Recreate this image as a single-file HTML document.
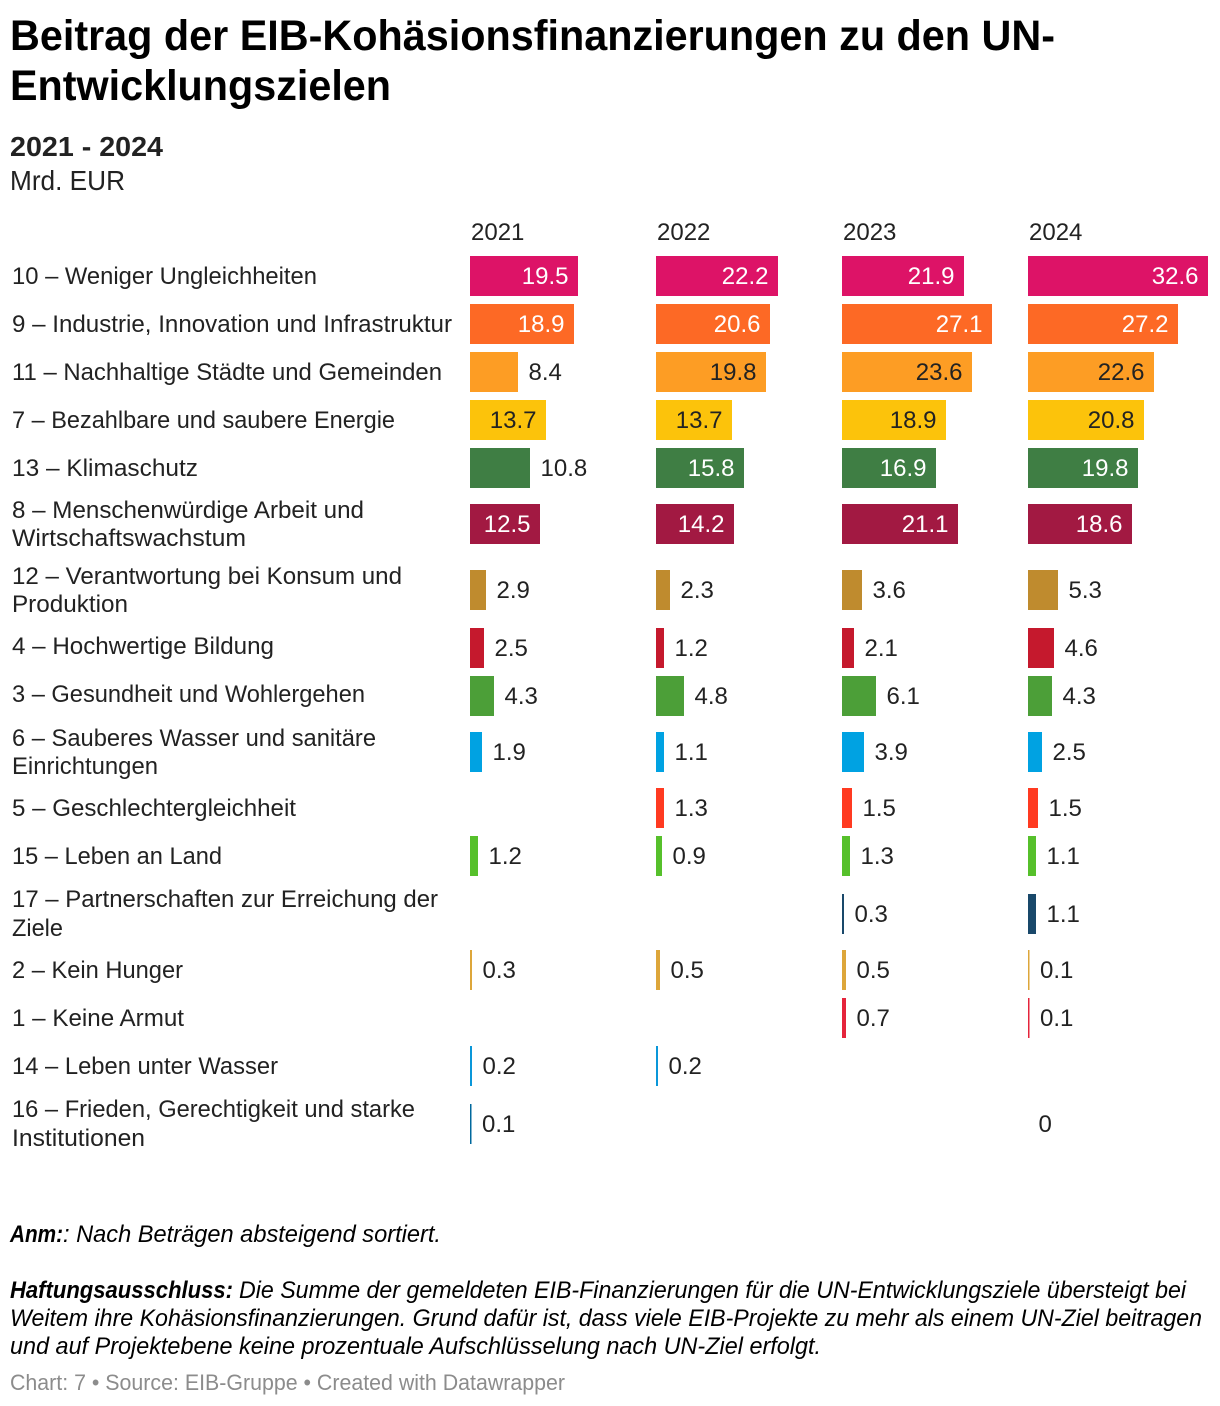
<!DOCTYPE html>
<html lang="de">
<head>
<meta charset="utf-8">
<title>Beitrag der EIB-Kohäsionsfinanzierungen zu den UN-Entwicklungszielen</title>
<style>
html,body{margin:0;padding:0;background:#fff;}
svg{display:block;font-family:"Liberation Sans",sans-serif;}
text{fill:#222;}
.ttl{font-size:43px;font-weight:700;fill:#000;}
.lbl{font-size:24px;}
.note{font-size:24px;font-style:italic;fill:#000;}
.foot{font-size:22px;fill:#8c8c8c;}
</style>
</head>
<body>
<svg id="chart" xmlns="http://www.w3.org/2000/svg" width="1220" height="1406" viewBox="0 0 1220 1406">
  <rect x="0" y="0" width="1220" height="1406" fill="#fff"/>
  <g>
    <text class="ttl" x="10" y="50" textLength="1045" lengthAdjust="spacingAndGlyphs">Beitrag der EIB-Kohäsionsfinanzierungen zu den UN-</text>
    <text class="ttl" x="10" y="100" textLength="381" lengthAdjust="spacingAndGlyphs">Entwicklungszielen</text>
    <text x="10" y="156" font-size="28" font-weight="700" textLength="153" lengthAdjust="spacingAndGlyphs">2021 - 2024</text>
    <text x="10" y="190" font-size="28" textLength="115" lengthAdjust="spacingAndGlyphs">Mrd. EUR</text>
  </g>
  <g id="plot"></g>
  <g>
    <text class="note" x="10" y="1242" font-weight="700" textLength="53" lengthAdjust="spacingAndGlyphs">Anm:</text>
    <text class="note" x="63" y="1242" textLength="378" lengthAdjust="spacingAndGlyphs">: Nach Beträgen absteigend sortiert.</text>
    <text class="note" x="10" y="1298" font-weight="700" textLength="223" lengthAdjust="spacingAndGlyphs">Haftungsausschluss:</text>
    <text class="note" x="239" y="1298" textLength="947" lengthAdjust="spacingAndGlyphs">Die Summe der gemeldeten EIB-Finanzierungen für die UN-Entwicklungsziele übersteigt bei</text>
    <text class="note" x="10" y="1326" textLength="1192" lengthAdjust="spacingAndGlyphs">Weitem ihre Kohäsionsfinanzierungen. Grund dafür ist, dass viele EIB-Projekte zu mehr als einem UN-Ziel beitragen</text>
    <text class="note" x="10" y="1354" textLength="811" lengthAdjust="spacingAndGlyphs">und auf Projektebene keine prozentuale Aufschlüsselung nach UN-Ziel erfolgt.</text>
  </g>
  <text class="foot" x="10" y="1390" textLength="555" lengthAdjust="spacingAndGlyphs">Chart: 7 • Source: EIB-Gruppe • Created with Datawrapper</text>
</svg>
<script>
const years = ["2021", "2022", "2023", "2024"];
const categories = [
  "10 – Weniger Ungleichheiten",
  "9 – Industrie, Innovation und Infrastruktur",
  "11 – Nachhaltige Städte und Gemeinden",
  "7 – Bezahlbare und saubere Energie",
  "13 – Klimaschutz",
  "8 – Menschenwürdige Arbeit und|Wirtschaftswachstum",
  "12 – Verantwortung bei Konsum und|Produktion",
  "4 – Hochwertige Bildung",
  "3 – Gesundheit und Wohlergehen",
  "6 – Sauberes Wasser und sanitäre|Einrichtungen",
  "5 – Geschlechtergleichheit",
  "15 – Leben an Land",
  "17 – Partnerschaften zur Erreichung der|Ziele",
  "2 – Kein Hunger",
  "1 – Keine Armut",
  "14 – Leben unter Wasser",
  "16 – Frieden, Gerechtigkeit und starke|Institutionen"
];
const values2021 = [19.5, 18.9, 8.4, 13.7, 10.8, 12.5, 2.9, 2.5, 4.3, 1.9, null, 1.2, null, 0.3, null, 0.2, 0.1];
const values2022 = [22.2, 20.6, 19.8, 13.7, 15.8, 14.2, 2.3, 1.2, 4.8, 1.1, 1.3, 0.9, null, 0.5, null, 0.2, null];
const values2023 = [21.9, 27.1, 23.6, 18.9, 16.9, 21.1, 3.6, 2.1, 6.1, 3.9, 1.5, 1.3, 0.3, 0.5, 0.7, null, null];
const values2024 = [32.6, 27.2, 22.6, 20.8, 19.8, 18.6, 5.3, 4.6, 4.3, 2.5, 1.5, 1.1, 1.1, 0.1, 0.1, null, 0];
const seriesByYear = [values2021, values2022, values2023, values2024];

/* layout and style (not data) */
const rowColors = ["#dd1367","#fd6925","#fd9d24","#fcc30b","#3f7e44","#a21942","#bf8b2e","#c5192d","#4c9f38","#00a2e2","#ff3a21","#56c02b","#19486a","#dda63a","#e5243b","#0a97d9","#00689d"];
const darkTextRows = [2, 3];
const rowSteps = [48,48,48,48,56,66,58,48,56,56,48,58,56,48,48,58];
const labelShifts = [0,0,0,0,0,0,0,-2,-2,0,0,0,-1,0,0,0,-1];
const labelLineWidths = [[305],[440],[430],[383],[186],[352,234],[390,116],[262],[353],[364,146],[284],[210],[426,51],[171],[172],[266],[403,133]];
const firstRowCenter = 276;
const columnX = (c) => 470 + c * 186;
const pxPerUnit = 5.49;
const barWidth = (v) => {
  const raw = v * pxPerUnit;
  if (raw === 0) return 0;
  if (raw < 1) return 1.5;
  return Math.ceil(raw / 2) * 2;
};
const BAR_H = 40;
const rowCenter = (r) => {
  let y = firstRowCenter;
  for (let i = 0; i < r; i++) y += rowSteps[i];
  return y;
};
const formatValue = (v) => v === 0 ? "0" : v.toFixed(1);
const textWidth = (s) => s.replace(".", "").length * 13.35 + (s.includes(".") ? 6.7 : 0);

const NS = "http://www.w3.org/2000/svg";
const plot = document.getElementById("plot");

function makeText(x, y, str, cls) {
  const t = document.createElementNS(NS, "text");
  t.setAttribute("x", x);
  t.setAttribute("y", y);
  t.setAttribute("class", cls);
  t.textContent = str;
  plot.appendChild(t);
  return t;
}

years.forEach((yr, c) => {
  const t = makeText(columnX(c) + 1, 240, yr, "lbl");
  
  
});

categories.forEach((cat, r) => {
  const cy = rowCenter(r);
  const lines = cat.split("|");
  lines.forEach((line, li) => {
    const base = lines.length === 1 ? cy + 8 : cy + 8 + (li === 0 ? -14 : 14);
    const shift = li === 0 || lines.length === 1 ? labelShifts[r] : 0;
    const t = makeText(12, base + shift, line, "lbl");
    t.setAttribute("textLength", labelLineWidths[r][li]);
    t.setAttribute("lengthAdjust", "spacingAndGlyphs");
    
    
  });
});

seriesByYear.forEach((series, c) => {
  series.forEach((v, r) => {
    if (v === null) return;
    const cy = rowCenter(r);
    const x0 = columnX(c);
    const w = barWidth(v);
    if (w > 0) {
      const bar = document.createElementNS(NS, "rect");
      bar.setAttribute("x", x0);
      bar.setAttribute("y", cy - BAR_H / 2);
      bar.setAttribute("width", w);
      bar.setAttribute("height", BAR_H);
      bar.setAttribute("fill", rowColors[r]);
      
      
      plot.appendChild(bar);
    }
    const str = formatValue(v);
    const inside = w > textWidth(str) + 20;
    const t = makeText(inside ? x0 + w - 9.5 : x0 + w + 10.5, cy + 8, str, "lbl");
    if (inside) {
      t.setAttribute("text-anchor", "end");
      t.style.fill = darkTextRows.includes(r) ? "#222" : "#fff";
    }
    
    
  });
});
</script>
</body>
</html>
